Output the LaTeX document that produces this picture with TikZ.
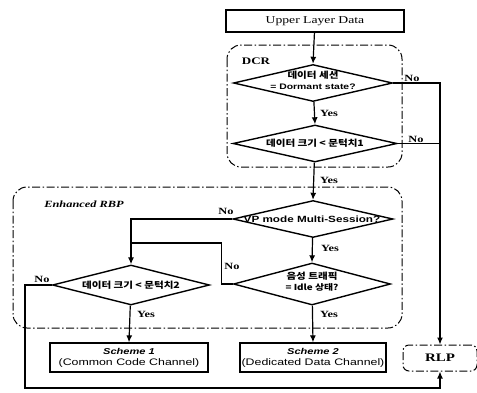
\documentclass[tikz,border=0pt]{standalone}
\usepackage{fontspec}
\setmainfont{Liberation Serif}[FakeStretch=1.3]
\setsansfont{Liberation Sans}[FakeStretch=1.3]
\newfontfamily\kr{Noto Sans CJK KR}[FakeStretch=1.2]
\usetikzlibrary{shapes.geometric,arrows.meta}
\begin{document}
\begin{tikzpicture}[x=1pt,y=-1pt,
  line width=1.2pt,
  arr/.style={-{Latex[length=7pt,width=6pt]}},
  dia/.style={draw, diamond, inner sep=0pt, line width=1.4pt},
  dtext/.style={font=\sffamily\bfseries\fontsize{8}{12}\selectfont, align=center, inner sep=0pt},
  ktext/.style={font=\kr\bfseries\fontsize{8.8}{12}\selectfont, align=center, inner sep=0pt},
  box/.style={draw, rectangle, inner sep=0pt, line width=1.3pt, align=center},
  region/.style={draw, rounded corners=14pt, line width=1pt, dash pattern=on 8pt off 2.5pt on 1.5pt off 2.5pt},
  yn/.style={font=\rmfamily\bfseries\fontsize{9.5}{11}\selectfont, inner sep=0pt},
  ttl/.style={font=\rmfamily\bfseries\fontsize{10}{12}\selectfont, inner sep=0pt},
]
\useasboundingbox (0,0) rectangle (477,392);

% regions
\draw[region] (227,45) rectangle (402,167);
\node[ttl] (dcrlabel) at (256,61) {DCR};
\draw[region] (13,187) rectangle (402,328);
\node[ttl, font=\rmfamily\bfseries\itshape\fontsize{9.5}{11}\selectfont] (rbplabel) at (84,204) {Enhanced RBP};

% nodes
\node[box, minimum width=178pt, minimum height=22pt, font=\rmfamily\fontsize{10.5}{12}\selectfont] (upper) at (315,21) {Upper Layer Data};

\node[dia, minimum width=159pt, minimum height=37pt] (d1) at (313,83) {};
\node[inner sep=0pt, align=center] (d1t) at (313,80) {{\kr\bfseries\fontsize{8.8}{10}\selectfont 데이터 세션}\\[-1pt]{\sffamily\bfseries\fontsize{8}{10}\selectfont = Dormant state?}};

\node[dia, minimum width=164pt, minimum height=37pt] (d2) at (315,143.5) {};
\node[ktext] (d2t) at (315,143.5) {데이터 크기 < 문턱치1};

\node[dia, minimum width=160pt, minimum height=37pt] (d3) at (313,219) {};
\node[dtext, font=\sffamily\bfseries\fontsize{9}{11}\selectfont] (d3t) at (312,219) {VP mode Multi-Session?};

\node[dia, minimum width=157pt, minimum height=40pt] (d4) at (131,285) {};
\node[ktext] (d4t) at (131,285) {데이터 크기 < 문턱치2};

\node[dia, minimum width=157pt, minimum height=42pt] (d5) at (312,284) {};
\node[inner sep=0pt, align=center] (d5t) at (312,282) {{\kr\bfseries\fontsize{8.8}{10}\selectfont 음성 트래픽}\\[-1pt]{\kr\bfseries\fontsize{8.2}{10}\selectfont = Idle 상태?}};

\node[box, minimum width=158pt, minimum height=29pt] (s1) at (129,357.5)
  {{\sffamily\bfseries\itshape\fontsize{8.5}{10}\selectfont Scheme 1}\\[-1pt]{\sffamily\fontsize{9.5}{10}\selectfont (Common Code Channel)}};
\node[box, minimum width=146pt, minimum height=29pt] (s2) at (313,357.5)
  {{\sffamily\bfseries\itshape\fontsize{8.5}{10}\selectfont Scheme 2}\\[-1pt]{\sffamily\fontsize{9.5}{10}\selectfont (Dedicated Data Channel)}};
\node[region, minimum width=74pt, minimum height=26pt, rounded corners=6pt, font=\rmfamily\bfseries\fontsize{11.5}{12}\selectfont] (rlp) at (440,358) {RLP};

\coordinate (m) at (131,243);
\coordinate (b1) at (25,388);

% connectors
\draw[arr] (upper) -- (d1.north);
\draw[arr] (d1) -- (d2.north);
\draw[arr] (d2) -- (d3.north);
\draw[arr] (d1.east) -| (rlp.north);
\draw (d2.east) -- (d2.east -| rlp.north);
\draw[arr] (d3.west) -| (d4.north);
\draw[arr] (d3) -- (d5.north);
\draw (d5.west) -- ++(-11,0) |- (m);
\draw[arr] (d4.west) -| (b1) -| (rlp.south);
\draw[arr] (d4) -- (s1.north);
\draw[arr] (d5) -- (s2.north);

% labels
\node[yn] (y1) at (329,113) {Yes};
\node[yn] (y2) at (329,180) {Yes};
\node[yn] (y3) at (330,248) {Yes};
\node[yn] (y4) at (146,314) {Yes};
\node[yn] (y5) at (329,314) {Yes};
\node[yn] (n1) at (412,78) {No};
\node[yn] (n2) at (416,139) {No};
\node[yn] (n3) at (226,211) {No};
\node[yn] (n4) at (232,266) {No};
\node[yn] (n5) at (42,279) {No};
\end{tikzpicture}
\end{document}
